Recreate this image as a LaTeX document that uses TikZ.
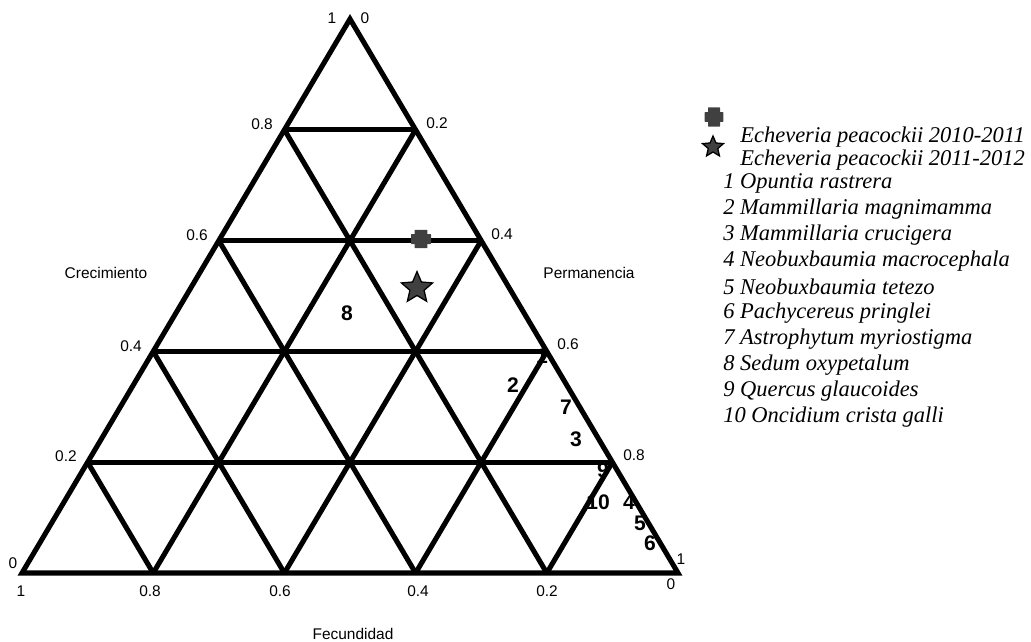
\documentclass[tikz,border=0pt]{standalone}
\usepackage{fontspec}
\setmainfont{Liberation Serif}
\setsansfont{Liberation Sans}
\usetikzlibrary{calc,shapes.geometric}
\definecolor{markgray}{HTML}{404040}
\begin{document}
\begin{tikzpicture}[x=0.025cm, y=-0.025cm]
  \useasboundingbox (0,0) rectangle (1031,641);
  \tikzstyle{grid}=[line width=3.6pt, line join=miter]
  \tikzstyle{tick}=[font=\sffamily\fontsize{11}{13}\selectfont, inner sep=0pt]
  \tikzstyle{axis}=[font=\sffamily\fontsize{11}{13}\selectfont, inner sep=0pt]
  \tikzstyle{sp}=[font=\sffamily\bfseries\fontsize{15}{17}\selectfont, inner sep=0pt]
  \tikzstyle{legend}=[font=\itshape\fontsize{16}{18}\selectfont, anchor=west, inner sep=0pt]
  \tikzstyle{starmark}=[star, star points=5, star point ratio=2.2, draw=black, fill=markgray, line width=0.9pt, inner sep=0pt]
  \tikzstyle{plusbar}=[rectangle, fill=markgray, inner sep=0pt, rounded corners=0.4pt]

  % Ecken und Teilpunkte
  \coordinate (T) at (350,19);
  \coordinate (A) at (22,573);
  \coordinate (C) at (678,573);
  \foreach \k in {1,...,4} {
    \coordinate (L\k) at ($(T)!\k/5!(A)$);
    \coordinate (R\k) at ($(T)!\k/5!(C)$);
    \coordinate (B\k) at ($(A)!\k/5!(C)$);
  }

  % Arten (unter dem Gitter)
  \node[sp] (s8)  at (347,313) {8};
  \node[sp] (s1)  at (542,356) {1};
  \node[sp] (s2)  at (513,385) {2};
  \node[sp] (s7)  at (566,407) {7};
  \node[sp] (s3)  at (576,439) {3};
  \node[sp] (s9)  at (603,470) {9};
  \node[sp] (s10) at (598,502) {10};
  \node[sp] (s4)  at (629,502) {4};
  \node[sp] (s5)  at (640,523) {5};
  \node[sp] (s6)  at (650,543) {6};

  \draw[grid] (T) -- (A) -- (C) -- cycle;
  \foreach \k in {1,...,4} \draw[grid] (L\k) -- (R\k);
  \foreach \k/\j in {1/4,2/3,3/2,4/1} \draw[grid] (L\k) -- (B\j);
  \foreach \k in {1,...,4} \draw[grid] (R\k) -- (B\k);

  % Skalen
  \foreach \x/\y/\t [count=\i] in {332/18/1, 262/124/0.8, 197/235/0.6, 131/346/0.4, 66/456/0.2, 13/563/0}
    \node[tick] (lt\i) at (\x,\y) {\t};
  \foreach \x/\y/\t [count=\i] in {365/18/0, 437/123/0.2, 502/234/0.4, 568/344/0.6, 634/455/0.8, 681/559/1}
    \node[tick] (rt\i) at (\x,\y) {\t};
  \foreach \x/\y/\t [count=\i] in {21/591/1, 150/591/0.8, 280/591/0.6, 418/591/0.4, 547/591/0.2, 671/584/0}
    \node[tick] (bt\i) at (\x,\y) {\t};

  \node[axis] (crec) at (106,273) {Crecimiento};
  \node[axis] (perm) at (589,273) {Permanencia};
  \node[axis] (fecu) at (353,634) {Fecundidad};

  % Echeveria
  \node[plusbar, minimum width=0.5cm, minimum height=0.25cm] (p1h) at (421,239) {};
  \node[plusbar, minimum width=0.32cm, minimum height=0.46cm] (p1v) at (421,239) {};
  \node[starmark, minimum size=0.82cm] (e2) at (417,288) {};

  % Legende
  \node[plusbar, minimum width=0.47cm, minimum height=0.24cm] (lph) at (714,117) {};
  \node[plusbar, minimum width=0.3cm, minimum height=0.48cm] (lpv) at (714,117) {};
  \node[starmark, minimum size=0.55cm] (lst) at (713,147) {};
  \node[legend] (le1) at (740,137) {Echeveria peacockii 2010-2011};
  \node[legend] (le2) at (740,160) {Echeveria peacockii 2011-2012};
  \foreach \t [count=\i] in {1 Opuntia rastrera, 2 Mammillaria magnimamma,
      3 Mammillaria crucigera, 4 Neobuxbaumia macrocephala, 5 Neobuxbaumia tetezo,
      6 Pachycereus pringlei, 7 Astrophytum myriostigma, 8 Sedum oxypetalum,
      9 Quercus glaucoides, 10 Oncidium crista galli}
    \node[legend] (lg\i) at (723,157+26*\i) {\t};
\end{tikzpicture}
\end{document}
